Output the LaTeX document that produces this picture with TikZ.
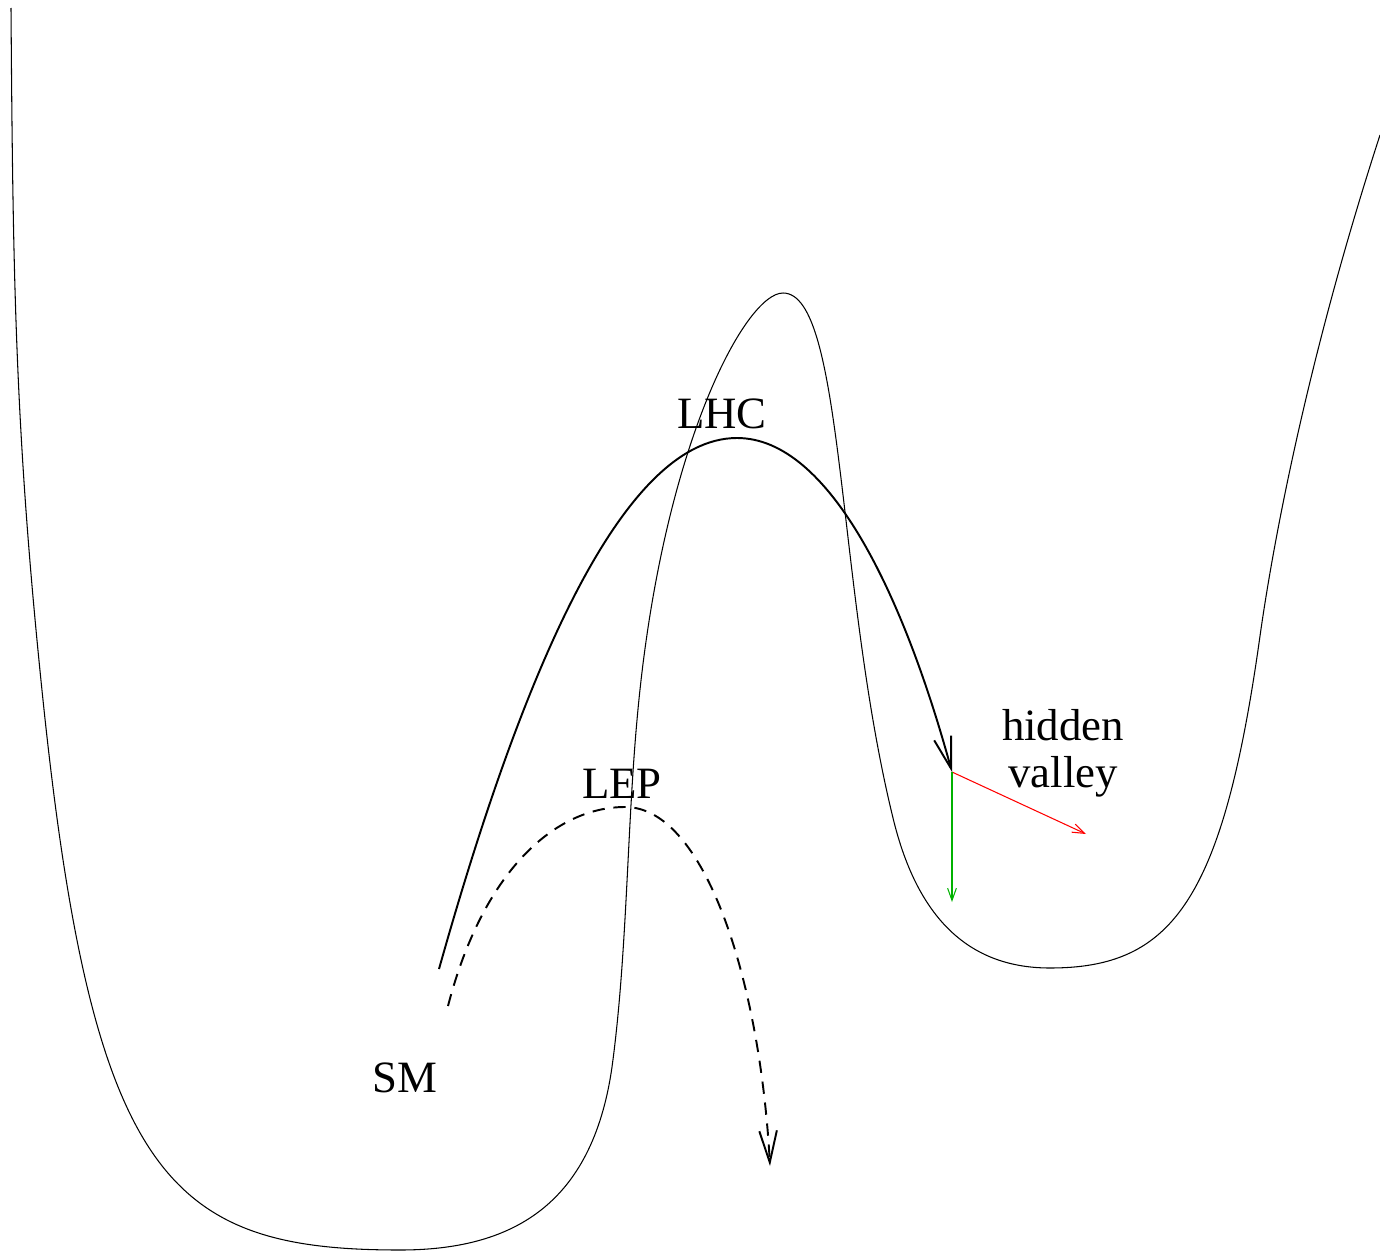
\documentclass[tikz,border=0pt]{standalone}
\usepackage{fontspec}
\setmainfont{Liberation Serif}
\usetikzlibrary{arrows.meta}
\definecolor{hvgreen}{RGB}{0,178,0}
\begin{document}
\begin{tikzpicture}[x=0.02cm,y=0.02cm]
\tikzstyle{lbl}=[font=\fontsize{25.5}{26.6}\selectfont, align=center, inner sep=0pt]
\tikzstyle{potential}=[draw, line width=0.6pt]
\tikzstyle{lhcpath}=[draw, line width=1.1pt, -{Straight Barb[length=18pt,width=10pt]}]
\tikzstyle{leppath}=[draw, line width=1.1pt, dash pattern=on 7pt off 5pt, -{Straight Barb[length=18pt,width=10pt]}]
\tikzstyle{decay}=[draw, line width=0.6pt, -{Straight Barb[length=7pt,width=5pt]}]

\useasboundingbox (0,0) rectangle (1380,-1251);

% Potential
\draw[potential] (11,-8) .. controls (13,-278) and (15,-432) .. (43,-700)
  .. controls (93,-1180) and (170,-1250) .. (400,-1250)
  .. controls (510,-1250) and (592,-1207) .. (612,-1067)
  .. controls (627,-957) and (627,-830) .. (637,-720)
  .. controls (661,-449) and (745,-293) .. (783,-293)
  .. controls (845,-293) and (836,-589) .. (894,-822)
  .. controls (921,-929) and (978,-968) .. (1050,-968)
  .. controls (1172,-968) and (1223,-901) .. (1260,-636)
  .. controls (1277,-516) and (1315,-335) .. (1380,-135);

% Labels
\node[lbl, anchor=base] (lhc) at (722,-428) {LHC};
\node[lbl, anchor=base] (lep) at (622,-798) {LEP};
\node[lbl, anchor=base] (sm) at (405,-1092) {SM};
\node[lbl] (hidden) at (1063,-753) {hidden\\valley};

% Points
\coordinate (lhcstart) at (439,-969);
\coordinate (lhctop) at (737,-438);
\coordinate (hv) at (952,-772);
\coordinate (lepstart) at (448,-1006);
\coordinate (leptop) at (625,-807);
\coordinate (lepend) at (770,-1166);
\coordinate (redend) at (1086,-834);
\coordinate (greenend) at (952,-902);

% Paths
\draw[lhcpath] (lhcstart) .. controls +(81,288) and +(-117,0) .. (lhctop)
  .. controls +(93,0) and +(-48,175) .. (hv);
\draw[leppath] (lepstart) .. controls +(35,135) and +(-70,0) .. (leptop)
  .. controls +(80,0) and +(-10,185) .. (lepend);
\draw[decay, red] (hv) -- (redend);
\draw[decay, hvgreen] (hv) -- (greenend);
\end{tikzpicture}
\end{document}
